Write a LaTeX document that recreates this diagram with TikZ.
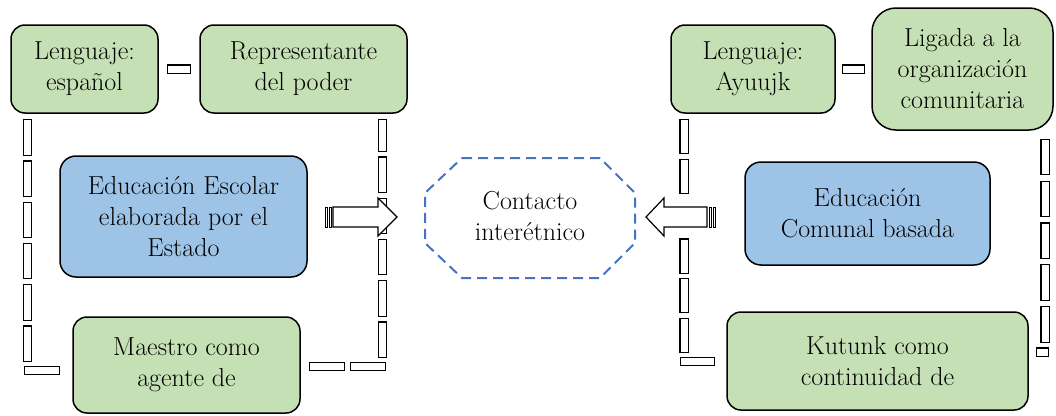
\documentclass[tikz,border=0pt]{standalone}
\usepackage{fontspec}
\usepackage{tikz}
\usetikzlibrary{positioning}
\definecolor{boxgreen}{HTML}{C5E0B4}
\definecolor{boxblue}{HTML}{9DC3E6}
\definecolor{octblue}{HTML}{4472C4}
\tikzset{
  txt/.style   ={font=\fontsize{26}{31}\selectfont, align=center},
  gbox/.style  ={draw, rounded corners=14pt, fill=boxgreen, line width=1.5pt,
                 inner sep=0pt, txt},
  bbox/.style  ={draw, rounded corners=16pt, fill=boxblue, line width=1.5pt,
                 inner sep=0pt, txt},
  % thick dashes drawn as outlined bars
  conn/.style  ={draw, double=white, double distance=7pt, line width=1.1pt,
                 line cap=rect, dash pattern=on 26pt off 14pt},
  octo/.style  ={draw=octblue, line width=2pt, dash pattern=on 10pt off 6pt},
  blkarr/.style={draw, fill=white, line width=1.2pt, line join=miter},
  stripe/.style={draw, fill=white, line width=1pt},
}
\begin{document}
\begin{tikzpicture}[x=1pt, y=-1pt]
  \useasboundingbox (0,0) rectangle (1056,415);
  % ---- left side: school education
  \node[gbox, minimum width=147pt, minimum height=88pt] (lesp) at (84.5,69)
    {Lenguaje:\\espa\~nol};
  \node[gbox, minimum width=207pt, minimum height=88pt] (repr) at (303.5,69)
    {Representante\\del poder};
  \node[bbox, minimum width=247pt, minimum height=121pt] (escol) at (183.5,216.5)
    {Educación Escolar\\elaborada por el\\Estado};
  \node[gbox, minimum width=227pt, minimum height=96pt] (maes) at (186.5,365)
    {Maestro como\\agente de};
  \draw[conn, shorten <=13pt, shorten >=13pt] (lesp) -- (repr);
  \draw[conn, dash pattern=on 27.25pt off 14pt, shorten <=10pt, shorten >=16.5pt]
    (lesp.south -| 27.5,0) |- ([yshift=-5.5pt]maes.west);
  \draw[conn, dash pattern=on 27.25pt off 14pt, dash phase=4pt,
        shorten <=10pt, shorten >=10pt]
    (repr.south -| 382.5,0) |- ([yshift=-1.5pt]maes.east);
  % ---- right side: communal education
  \node[gbox, minimum width=164pt, minimum height=88pt] (ayuu) at (753,69)
    {Lenguaje:\\Ayuujk};
  \node[gbox, rounded corners=24pt, minimum width=181pt, minimum height=122pt]
    (liga) at (962.5,69) {Ligada a la\\organización\\comunitaria};
  \node[bbox, minimum width=245pt, minimum height=103pt] (comu) at (867.5,213.5)
    {Educación\\Comunal basada};
  \node[gbox, minimum width=301pt, minimum height=98pt] (kutu) at (877.5,361)
    {Kutunk como\\continuidad de};
  \draw[conn, shorten <=11pt, shorten >=11pt] (ayuu) -- (liga);
  \draw[conn, dash pattern=on 26pt off 13.75pt, shorten <=10pt, shorten >=13pt]
    (ayuu.south -| 684,0) |- ([yshift=-0.5pt]kutu.west);
  \draw[conn, dash pattern=on 27.5pt off 14.4pt, shorten <=12.5pt, shorten >=11.5pt]
    (liga.south -| 1045,0) |- ([yshift=9pt]kutu.east);
  % ---- middle
  \draw[octo] (462,158) -- (600,158) -- (635,193) -- (635,243) -- (600,278)
    -- (462,278) -- (425,243) -- (425,193) -- cycle;
  \node[txt] (cont) at (530,216) {Contacto\\interétnico};
  % ---- striped block arrows
  \draw[blkarr] (333,207) -- (378,207) -- (378,198) -- (397,217) -- (378,236)
    -- (378,227) -- (333,227) -- cycle;
  \draw[stripe] (325,207) rectangle (327.5,227);
  \draw[stripe] (329,207) rectangle (331.5,227);
  \fill[white] (677,196) rectangle (691,238); % arrow hides the dash behind it
  \draw[blkarr] (707,207) -- (664,207) -- (664,198) -- (646,217) -- (664,236)
    -- (664,227) -- (707,227) -- cycle;
  \draw[stripe] (709,207) rectangle (711.5,227);
  \draw[stripe] (713,207) rectangle (715.5,227);
\end{tikzpicture}
\end{document}
